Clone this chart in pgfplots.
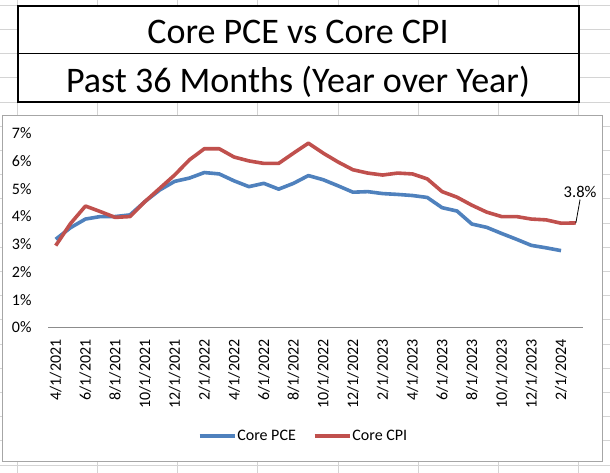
\documentclass[border=0pt]{standalone}
\usepackage{fontspec}
\setmainfont{Carlito}
\usepackage{pgfplots}
\pgfplotsset{compat=1.18}
\definecolor{pceblue}{HTML}{4F81BD}
\definecolor{cpired}{HTML}{C0504D}
\definecolor{xlgrid}{HTML}{D4D4D4}
\definecolor{chartborder}{HTML}{A6A6A6}
\definecolor{axisgray}{HTML}{8C8C8C}
\begin{document}
\begin{tikzpicture}
\begin{scope}[x=1pt,y=1pt]
\path[use as bounding box, fill=white] (0,0) rectangle (610,-473);
\foreach \gx in {17.5,97.6,177.8,257.9,338.1,418.2,498.3,578.5}
  \draw[xlgrid, line width=1pt] (\gx,0) -- (\gx,-473);
\foreach \k in {0,...,19}
  \draw[xlgrid, line width=1pt] (0,-5.3-24.2*\k) -- (610,-5.3-24.2*\k);
\draw[fill=white, draw=chartborder, line width=1pt] (2,-116) rectangle (602.7,-461.7);
\draw[fill=white, draw=black, line width=2pt] (17.5,-5.7) rectangle (578.5,-102.3);
\draw[black, line width=1pt] (17.5,-54) -- (578.5,-54);
\node[anchor=base, inner sep=0pt, font=\fontsize{36}{40}\selectfont] at (298,-43.3) {Core PCE vs Core CPI};
\node[anchor=base, inner sep=0pt, font=\fontsize{36}{40}\selectfont] at (298,-92.3) {Past 36 Months (Year over Year)};
\end{scope}
\begin{axis}[
  at={(48.3pt,-327.3pt)}, anchor=south west,
  scale only axis, width=535pt, height=193.8pt,
  xmin=-0.5, xmax=35.5, ymin=0, ymax=7,
  axis x line*=bottom, axis y line*=left,
  x axis line style={-, draw=axisgray, line width=1pt},
  y axis line style={draw=none},
  xtick={0,2,...,34},
  xticklabels={4/1/2021,6/1/2021,8/1/2021,10/1/2021,12/1/2021,2/1/2022,4/1/2022,6/1/2022,8/1/2022,10/1/2022,12/1/2022,2/1/2023,4/1/2023,6/1/2023,8/1/2023,10/1/2023,12/1/2023,2/1/2024},
  ytick={0,1,2,3,4,5,6,7},
  yticklabels={0\%,1\%,2\%,3\%,4\%,5\%,6\%,7\%},
  major tick length=0pt,
  tick style={draw=none},
  xticklabel shift=12pt,
  yticklabel shift=16.6pt,
  xticklabel style={rotate=90, anchor=east, inner sep=0pt, font=\fontsize{16}{19}\selectfont},
  yticklabel style={anchor=east, inner sep=0pt, font=\fontsize{16}{19}\selectfont},
  clip=false,
  legend style={draw=none, fill=none, at={(0.476,-0.561)}, anchor=center,
    legend columns=2, font=\fontsize{16}{19}\selectfont,
    /tikz/every even column/.append style={column sep=16pt},
    nodes={inner sep=1pt}},
  legend image code/.code={\draw[#1, line cap=butt] (0pt,0pt) -- (35pt,0pt);},
]
\addplot[pceblue, line width=3.6pt, line join=round] coordinates {
(0,3.18)(1,3.60)(2,3.91)(3,4.00)(4,4.00)(5,4.06)(6,4.54)(7,4.96)(8,5.27)(9,5.39)
(10,5.59)(11,5.54)(12,5.29)(13,5.08)(14,5.20)(15,4.99)(16,5.20)(17,5.48)(18,5.33)(19,5.11)
(20,4.88)(21,4.90)(22,4.83)(23,4.80)(24,4.76)(25,4.69)(26,4.32)(27,4.20)(28,3.73)(29,3.61)
(30,3.39)(31,3.18)(32,2.96)(33,2.87)(34,2.77)};
\addlegendentry{Core PCE}
\addplot[cpired, line width=3.6pt, line join=round] coordinates {
(0,2.95)(1,3.75)(2,4.38)(3,4.18)(4,3.97)(5,4.00)(6,4.54)(7,5.02)(8,5.50)(9,6.05)
(10,6.45)(11,6.45)(12,6.15)(13,6.01)(14,5.92)(15,5.92)(16,6.29)(17,6.65)(18,6.29)(19,5.97)
(20,5.69)(21,5.57)(22,5.50)(23,5.57)(24,5.54)(25,5.36)(26,4.90)(27,4.70)(28,4.41)(29,4.16)
(30,4.00)(31,4.00)(32,3.91)(33,3.88)(34,3.76)(35,3.77)};
\addlegendentry{Core CPI}
\draw[black, line width=0.8pt] (axis cs:35,3.77) -- ++(4.2pt,23.4pt)
  node[anchor=base, yshift=1.6pt, inner sep=0pt, font=\fontsize{16.5}{19}\selectfont] {3.8\%};
\end{axis}
\end{tikzpicture}
\end{document}
